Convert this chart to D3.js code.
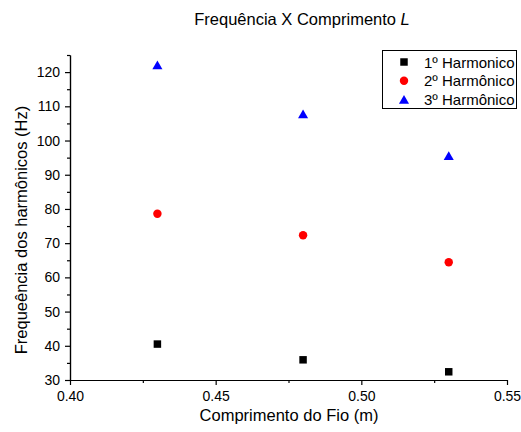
<!DOCTYPE html>
<html lang="pt">
<head>
<meta charset="utf-8">
<title>Frequência X Comprimento L</title>
<script src="https://d3js.org/d3.v7.min.js"></script>
<style>
  body { margin: 0; background: #fff; }
  text { font-family: Arial, "Liberation Sans", sans-serif; fill: #000; }
</style>
</head>
<body>
<script>
  // data
  var comprimentos = [0.43, 0.48, 0.53];
  var harmonico1 = [40.5, 35.9, 32.4];
  var harmonico2 = [78.6, 72.3, 64.4];
  var harmonico3 = [122.1, 107.8, 95.6];
  var nomes = ["1º Harmonico", "2º Harmônico", "3º Harmônico"];
  var xTicks = [0.40, 0.45, 0.50, 0.55];
  var yTicks = [30, 40, 50, 60, 70, 80, 90, 100, 110, 120];

  var width = 521, height = 432;
  var mLeft = 70, mRight = 507, mTop = 55, mBottom = 380;

  var svg = d3.select("body").append("svg")
      .attr("width", width).attr("height", height);

  var x = d3.scaleLinear().domain([0.40, 0.55]).range([mLeft, mRight]);
  var y = d3.scaleLinear().domain([30, 125]).range([mBottom, mTop]);

  // title
  var title = svg.append("text").attr("x", 302).attr("y", 25)
      .attr("text-anchor", "middle").style("font-size", "16.5px");
  title.append("tspan").text("Frequência X Comprimento ");
  title.append("tspan").style("font-style", "italic").text("L");

  // axes
  var xAxis = d3.axisBottom(x).tickValues(xTicks).tickFormat(d3.format(".2f"))
      .tickSizeInner(5).tickSizeOuter(0).tickPadding(6);
  var xMinor = d3.axisBottom(x).tickValues([0.425, 0.475, 0.525])
      .tickSizeInner(3).tickSizeOuter(0).tickFormat("");
  var yAxis = d3.axisLeft(y).tickValues(yTicks).tickSizeInner(5).tickSizeOuter(0).tickPadding(5);
  var yMinor = d3.axisLeft(y).tickValues([35, 45, 55, 65, 75, 85, 95, 105, 115, 125])
      .tickSizeInner(3).tickSizeOuter(0).tickFormat("");

  function styleAxis(g) {
    g.selectAll("path, line").attr("stroke", "#000").attr("stroke-width", 1.2);
    g.selectAll("text").style("font-size", "14px").attr("fill", "#000");
  }

  svg.append("g").attr("transform", "translate(0," + mBottom + ")").call(xMinor).call(styleAxis);
  svg.append("g").attr("transform", "translate(0," + mBottom + ")").call(xAxis).call(styleAxis);
  svg.append("g").attr("transform", "translate(" + mLeft + ",0)").call(yMinor).call(styleAxis);
  svg.append("g").attr("transform", "translate(" + mLeft + ",0)").call(yAxis).call(styleAxis);

  // axis labels
  svg.append("text").attr("x", 289).attr("y", 421).attr("text-anchor", "middle")
      .style("font-size", "16.5px").text("Comprimento do Fio (m)");
  svg.append("text").attr("transform", "translate(27,230) rotate(-90)")
      .attr("text-anchor", "middle").style("font-size", "16.5px")
      .text("Frequeência dos harmônicos (Hz)");

  // markers (triangle drawn centred on its bounding box)
  var triBox = {
    draw: function (ctx, size) {
      var s = Math.sqrt(size * 4 / Math.sqrt(3)), h = s * Math.sqrt(3) / 2;
      ctx.moveTo(0, -h / 2);
      ctx.lineTo(s / 2, h / 2);
      ctx.lineTo(-s / 2, h / 2);
      ctx.closePath();
    }
  };
  var square = d3.symbol().type(d3.symbolSquare).size(56);
  var circle = d3.symbol().type(d3.symbolCircle).size(56);
  var triangle = d3.symbol().type(triBox).size(44);

  var series = [
    { vals: harmonico1, sym: square, color: "#000000" },
    { vals: harmonico2, sym: circle, color: "#ff0000" },
    { vals: harmonico3, sym: triangle, color: "#0000ff" }
  ];

  series.forEach(function (s) {
    svg.append("g").selectAll("path").data(s.vals).enter().append("path")
        .attr("transform", function (d, i) { return "translate(" + x(comprimentos[i]) + "," + y(d) + ")"; })
        .attr("d", s.sym).attr("fill", s.color);
  });

  // legend
  var legend = svg.append("g");
  legend.append("rect").attr("x", 382.5).attr("y", 50.5).attr("width", 134).attr("height", 58)
      .attr("fill", "#fff").attr("stroke", "#000").attr("stroke-width", 1);
  series.forEach(function (s, i) {
    var cy = 62 + i * 18.7;
    legend.append("path").attr("transform", "translate(404," + cy + ")")
        .attr("d", s.sym).attr("fill", s.color);
    legend.append("text").attr("x", 424).attr("y", cy + 5.5)
        .style("font-size", "15px").text(nomes[i]);
  });
</script>
</body>
</html>
